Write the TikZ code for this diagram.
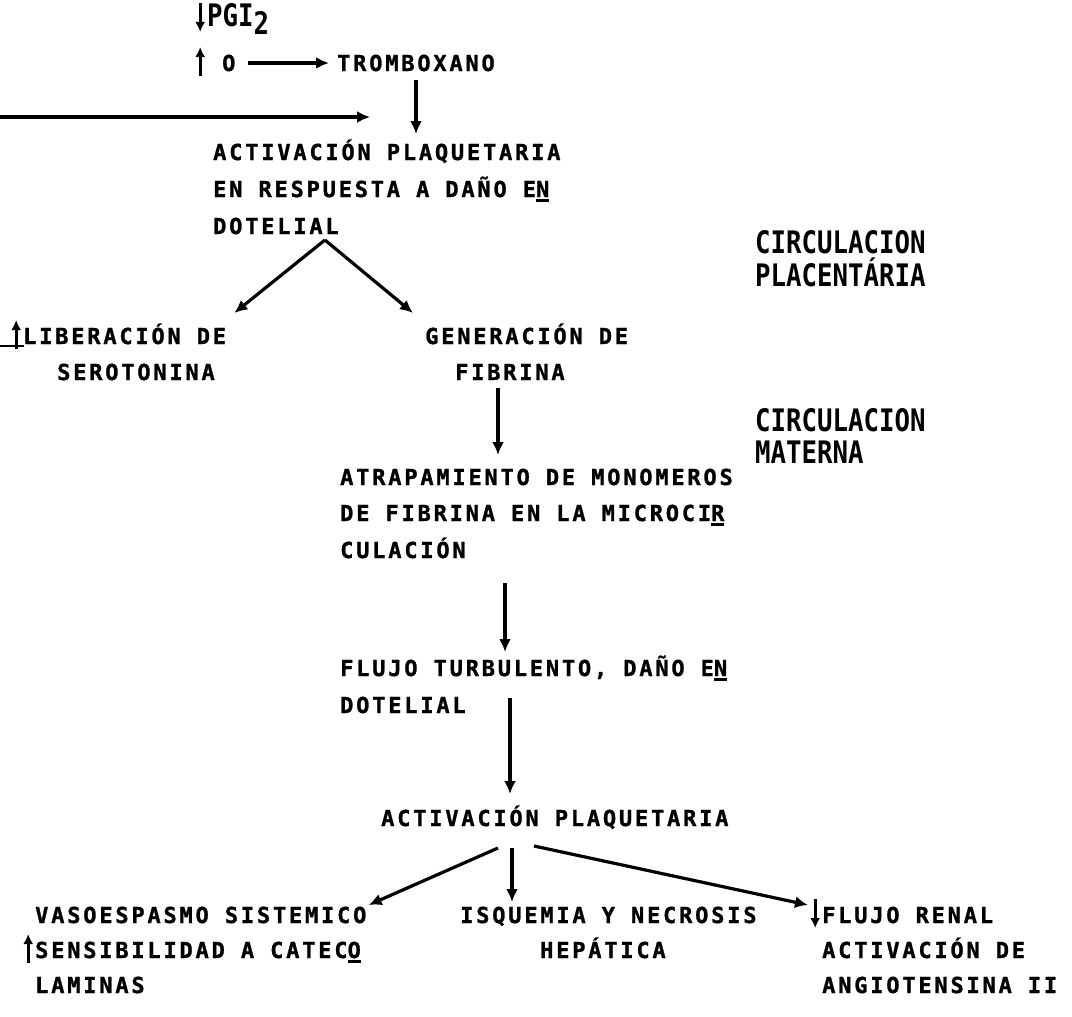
\documentclass[tikz,border=0pt]{standalone}
\usepackage{fontspec}
\usepackage{graphicx}
\usetikzlibrary{arrows.meta,calc}
\newfontfamily\tw{DejaVu Sans Mono}[LetterSpace=12.7,BoldFeatures={FakeBold=1.2}]
\newfontfamily\cnd{DejaVu Sans Mono}
\newcommand\ulc[1]{\rlap{\rule[-5pt]{13pt}{2.8pt}}#1}
\newcommand\uar{\makebox[14pt][c]{\tikz[baseline=0pt]\draw[line width=2.8pt,-{Latex[length=10pt,width=10pt]}] (0pt,-5pt)--(0pt,24pt);}}
\newcommand\dar{\makebox[14pt][c]{\tikz[baseline=0pt]\draw[line width=2.8pt,-{Latex[length=10pt,width=10pt]}] (0pt,24pt)--(0pt,-5pt);}}
\newcommand\cnt[1]{\scalebox{0.83}[1]{\cnd\bfseries\fontsize{31}{31}\selectfont #1}}
\begin{document}
\begin{tikzpicture}[x=1pt,y=-1pt,
  txt/.style={anchor=base west, inner sep=0pt, font=\tw\bfseries\fontsize{22}{37}\selectfont},
  big/.style={anchor=base west, inner sep=0pt},
  arr/.style={line width=3.2pt, -{Latex[length=13pt,width=12pt]}}]
\useasboundingbox[fill=white] (0,0) rectangle (1072,1017);
% top
\node[big] (pgi) at (193,27) {\dar\cnt{PGI}\raisebox{-8pt}{\cnt{2}}};
\node[big] (up0) at (193,71) {\uar};
\node[txt] (o) at (222,71) {O};
\node[txt] (trom) at (337,71) {TROMBOXANO};
\draw[arr] ($(o.east)+(12,0)$) -- ($(trom.west)+(-8,0)$);
\coordinate (lstart) at (0,117);
\coordinate (lend) at (370,117);
\draw[arr] (lstart) -- (lend);
\node[txt] (act1) at (213,160) {ACTIVACIÓN PLAQUETARIA};
\node[txt] (act2) at (213,197) {EN RESPUESTA A DAÑO E\ulc{N}};
\node[txt] (act3) at (213,234) {DOTELIAL};
\coordinate (c1) at (416,0);
\draw[arr] ($(trom.south -| c1)+(0,8)$) -- ($(act1.base -| c1)+(0,-26)$);
\node[big] (circ1) at (755,253) {\cnt{CIRCULACION}};
\node[big] (circ2) at (755,286) {\cnt{PLACENTÁRIA}};
% V
\node[txt] (lib) at (0,344) {\rlap{\rule[-3pt]{24pt}{2.5pt}}\makebox[9pt]{}\uar LIBERACIÓN DE};
\node[txt] (ser) at (57,380) {SEROTONINA};
\node[txt] (gen) at (425,344) {GENERACIÓN DE};
\node[txt] (fib) at (455,380) {FIBRINA};
\coordinate (apex) at ($(act3.base east)+(-14,6)$);
\draw[arr] (apex) -- ($(lib.base east)+(8,-31)$);
\draw[arr] (apex) -- ($(gen.base west)+(-12,-31)$);
\node[big] (circ3) at (755,431) {\cnt{CIRCULACION}};
\node[big] (circ4) at (755,463) {\cnt{MATERNA}};
% middle
\node[txt] (atr1) at (340,485) {ATRAPAMIENTO DE MONOMEROS};
\node[txt] (atr2) at (340,521) {DE FIBRINA EN LA MICROCI\ulc{R}};
\node[txt] (atr3) at (340,558) {CULACIÓN};
\coordinate (c2) at (498,0);
\draw[arr] ($(fib.base -| c2)+(0,8)$) -- ($(atr1.base -| c2)+(0,-30)$);
\node[txt] (flu1) at (340,676) {FLUJO TURBULENTO, DAÑO E\ulc{N}};
\node[txt] (flu2) at (340,713) {DOTELIAL};
\coordinate (c3) at (505,0);
\draw[arr] ($(atr3.base -| c3)+(0,25)$) -- ($(flu1.base -| c3)+(0,-24)$);
\node[txt] (act4) at (381,826) {ACTIVACIÓN PLAQUETARIA};
\coordinate (c4) at (510,0);
\draw[arr] ($(flu2.base -| c4)+(0,-15)$) -- ($(act4.base -| c4)+(0,-32)$);
% bottom
\node[txt] (vas1) at (35,923) {VASOESPASMO SISTEMICO};
\node[txt] (vas2) at (21,958) {\uar SENSIBILIDAD A CATEC\ulc{O}};
\node[txt] (vas3) at (35,993) {LAMINAS};
\node[txt] (isq1) at (460,923) {ISQUEMIA Y NECROSIS};
\node[txt] (isq2) at (540,958) {HEPÁTICA};
\node[txt] (flr1) at (808,923) {\dar FLUJO RENAL};
\node[txt] (flr2) at (822,958) {ACTIVACIÓN DE};
\node[txt] (flr3) at (822,993) {ANGIOTENSINA II};
\draw[arr] ($(act4.base -| c4)+(-12,22)$) -- ($(vas1.base east)+(2,-18)$);
\draw[arr] ($(act4.base -| c4)+(2,22)$) -- ($(act4.base -| c4)+(2,76)$);
\draw[arr] ($(act4.base -| c4)+(24,20)$) -- ($(flr1.base west)+(0,-18)$);
\end{tikzpicture}
\end{document}
